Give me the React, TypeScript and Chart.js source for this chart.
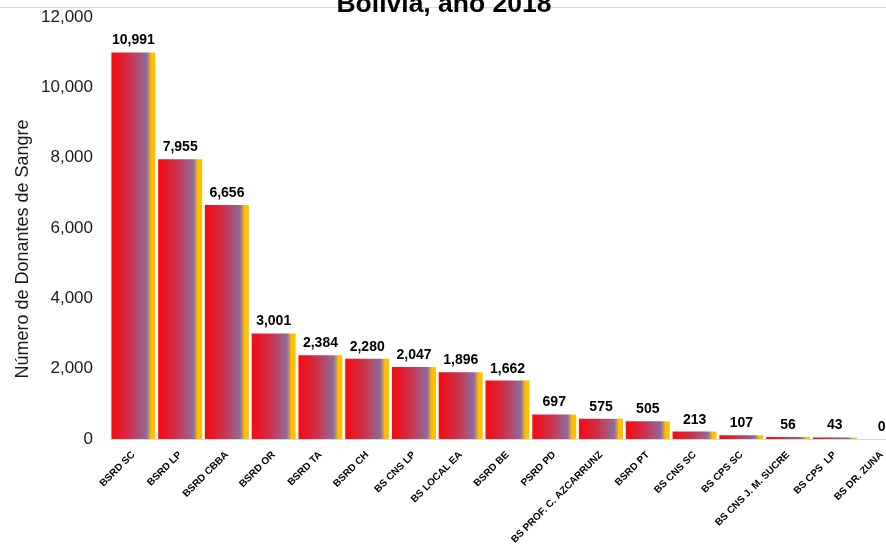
import React, { useEffect, useRef } from "react";
import { Chart, registerables } from "chart.js";

Chart.register(...registerables);

const categories: string[] = [
  "BSRD SC",
  "BSRD LP",
  "BSRD CBBA",
  "BSRD OR",
  "BSRD TA",
  "BSRD CH",
  "BS CNS LP",
  "BS LOCAL EA",
  "BSRD BE",
  "PSRD PD",
  "BS PROF. C. AZCARRUNZ",
  "BSRD PT",
  "BS CNS SC",
  "BS CPS SC",
  "BS CNS J. M. SUCRE",
  "BS CPS  LP",
  "BS DR. ZUNA",
];

const donors: number[] = [
  10991, 7955, 6656, 3001, 2384, 2280, 2047, 1896, 1662, 697, 575, 505, 213, 107, 56, 43, 0,
];

const yTicks: number[] = [0, 2000, 4000, 6000, 8000, 10000, 12000];

const titleText = "Bolivia, año 2018";
const yTitleText = "Número de Donantes de Sangre";

const FONT = "'Liberation Sans', Arial, Helvetica, sans-serif";
const BAR_PCT = 0.94;

const CANVAS_W = 906;
const CANVAS_H = 551;

export default function App() {
  const canvasRef = useRef<HTMLCanvasElement | null>(null);

  useEffect(() => {
    const canvas = canvasRef.current;
    if (!canvas) return;

    const decorPlugin = {
      id: "decor",
      beforeDraw(chart: any) {
        const ctx = chart.ctx;
        ctx.save();
        ctx.strokeStyle = "#d9d9d9";
        ctx.lineWidth = 1;
        ctx.beginPath();
        ctx.moveTo(0, 7.5);
        ctx.lineTo(chart.width, 7.5);
        ctx.stroke();
        ctx.restore();
      },
      afterDraw(chart: any) {
        const ctx = chart.ctx;
        ctx.save();
        ctx.fillStyle = "#000000";
        ctx.font = `bold 26.5px ${FONT}`;
        ctx.textAlign = "center";
        ctx.textBaseline = "alphabetic";
        ctx.fillText(titleText, 444, 12);
        ctx.translate(28, 249);
        ctx.rotate(-Math.PI / 2);
        ctx.font = `18px ${FONT}`;
        ctx.fillStyle = "#1a1a1a";
        ctx.fillText(yTitleText, 0, 0);
        ctx.restore();
      },
      afterDatasetsDraw(chart: any) {
        const ctx = chart.ctx;
        const meta = chart.getDatasetMeta(0);
        ctx.save();
        ctx.font = `bold 14px ${FONT}`;
        ctx.fillStyle = "#000000";
        ctx.textAlign = "center";
        ctx.textBaseline = "alphabetic";
        meta.data.forEach((bar: any, i: number) => {
          const v = donors[i];
          ctx.fillText(v.toLocaleString("en-US"), bar.x, bar.y - 8);
        });
        ctx.restore();
      },
    };

    const chart = new Chart(canvas, {
      type: "bar",
      data: {
        labels: categories,
        datasets: [
          {
            data: donors,
            categoryPercentage: 1,
            barPercentage: BAR_PCT,
            borderWidth: 0,
            backgroundColor: (ctx: any) => {
              const ch = ctx.chart;
              const xs = ch.scales && ch.scales.x;
              if (!ch.chartArea || !xs) return "#e8101e";
              const cx = xs.getPixelForValue(ctx.dataIndex);
              const w = (xs.width / categories.length) * BAR_PCT;
              const g = ch.ctx.createLinearGradient(cx - w / 2, 0, cx + w / 2, 0);
              g.addColorStop(0, "#fb0a12");
              g.addColorStop(0.06, "#f30d18");
              g.addColorStop(0.45, "#c9354f");
              g.addColorStop(0.8, "#8c6c9e");
              g.addColorStop(0.87, "#d8a040");
              g.addColorStop(0.9, "#ffc000");
              g.addColorStop(1, "#ffc000");
              return g;
            },
          },
        ],
      },
      options: {
        responsive: false,
        animation: false,
        layout: { padding: { top: 17, right: 1, bottom: 0, left: 0 } },
        plugins: {
          legend: { display: false },
          title: { display: false },
          tooltip: { enabled: false },
        },
        scales: {
          x: {
            grid: { display: false, drawTicks: false },
            border: { display: true, color: "#d9d9d9", width: 1 },
            ticks: {
              autoSkip: false,
              minRotation: 45,
              maxRotation: 45,
              padding: 10,
              color: "#000000",
              font: { family: FONT, size: 10, weight: "bold" },
            },
            afterFit: (scale: any) => {
              scale.height = 112;
              scale.paddingLeft = 0;
              scale.paddingRight = 0;
            },
          },
          y: {
            min: 0,
            max: 12000,
            grid: { display: false, drawTicks: false },
            border: { display: false },
            afterBuildTicks: (scale: any) => {
              scale.ticks = yTicks.map((v) => ({ value: v }));
            },
            ticks: {
              padding: 17,
              color: "#1a1a1a",
              font: { family: FONT, size: 17 },
              callback: (v: any) => Number(v).toLocaleString("en-US"),
            },
            afterFit: (scale: any) => {
              scale.width = 110;
              scale.paddingTop = 0;
              scale.paddingBottom = 0;
            },
          },
        },
      },
      plugins: [decorPlugin],
    } as any);

    return () => {
      chart.destroy();
    };
  }, []);

  return (
    <div
      style={{
        position: "fixed",
        left: 0,
        top: 0,
        width: 886,
        height: 551,
        overflow: "hidden",
        background: "#ffffff",
      }}
    >
      <canvas
        ref={canvasRef}
        width={CANVAS_W}
        height={CANVAS_H}
        style={{ position: "absolute", left: 0, top: 0, width: CANVAS_W, height: CANVAS_H }}
      />
    </div>
  );
}
